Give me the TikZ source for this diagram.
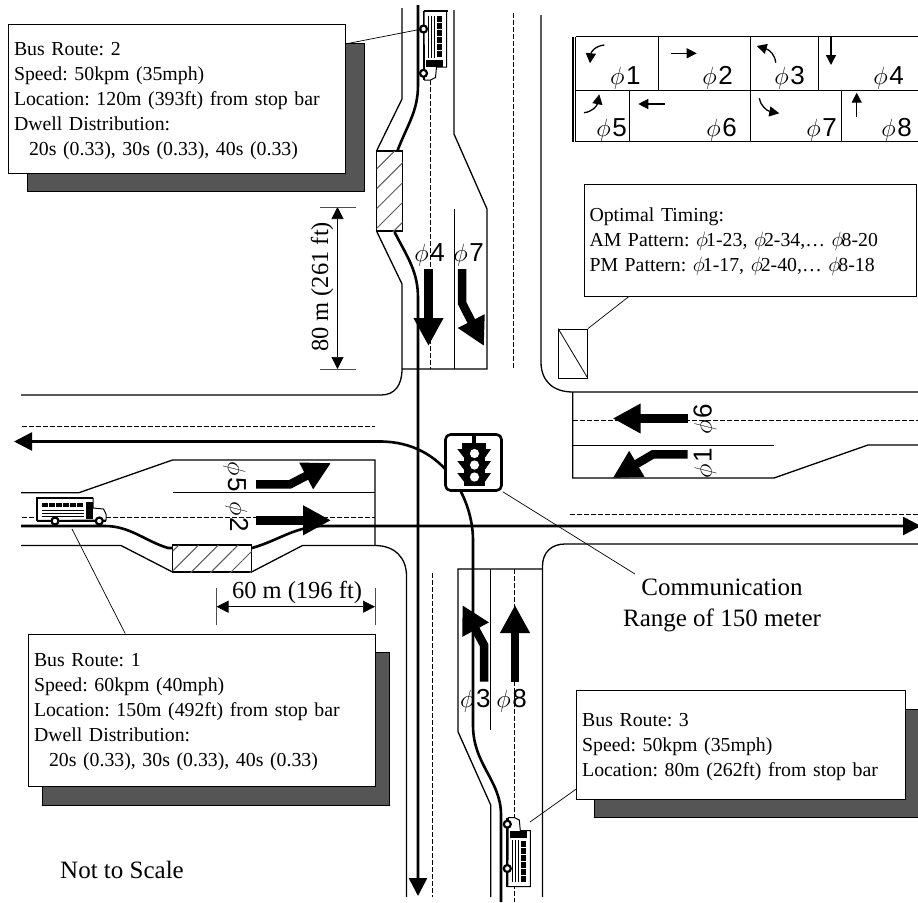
\documentclass[tikz,border=0pt]{standalone}
\usepackage{fontspec}
\setmainfont{Liberation Serif}
\newfontfamily\phasefont{Liberation Sans}
\usepackage{tikz}
\usetikzlibrary{arrows.meta,calc,shadows,patterns.meta}
\definecolor{shadowgray}{RGB}{85,85,85}
\definecolor{hatchgray}{RGB}{90,90,90}
\newcommand{\phs}[1]{$\phi$\kern1.5pt{\phasefont\fontsize{26}{26}\selectfont #1}}
\newcommand{\phz}{$\phi$\kern-2pt}
\tikzset{
  roadline/.style={line width=1.3pt},
  thinline/.style={line width=.8pt},
  cellline/.style={line width=1pt},
  laneline/.style={line width=.8pt, dash pattern=on 4.5pt off 2.5pt},
  routeline/.style={line width=2.6pt},
  routearrow/.style={routeline, -{Triangle[length=18pt,width=18pt]}},
  blockarrow/.style={line width=8.5pt, -{Triangle[length=28pt,width=28pt]}},
  smallarrow/.style={line width=1.3pt, -{Triangle[length=10pt,width=10pt]}},
  dimline/.style={line width=.7pt, {Triangle[length=12pt,width=12pt]}-{Triangle[length=12pt,width=12pt]}},
  dimtick/.style={line width=.7pt, draw=black!70},
  leader/.style={line width=.7pt},
  bay/.style={draw, line width=1.5pt, fill=white, inner sep=0pt, postaction={pattern={Lines[angle=45,distance=14pt,line width=1pt]}, pattern color=hatchgray}},
  infobox/.style={draw, thinline, fill=white, align=left, inner xsep=5.5pt, inner ysep=0pt, font=\fontsize{19.8}{25}\selectfont\frenchspacing, execute at begin node=\rule{0pt}{17.5pt}},
  shadowbox/.style={infobox, general shadow={shadow xshift=#1pt, shadow yshift=-18.5pt, fill=shadowgray, draw=black}},
  phaselabel/.style={inner sep=0pt, font=\fontsize{25}{25}\selectfont},
  bigtext/.style={inner sep=0pt, font=\fontsize{25}{31}\selectfont},
  bus/.pic={
    \draw[fill=white, line width=1pt] (-34.5,-13) -- (21.5,-13) -- (21.5,-3) -- (32,-2) -- (34.5,3) -- (34.5,9) -- (-34.5,9.5) -- cycle;
    \draw[line width=1.8pt] (-34.5,-14) -- (-34.5,10);
    \draw[line width=1.8pt] (-34.5,10) -- (34.5,10);
    \draw[line width=1.4pt] (-34.5,-13) -- (21.5,-13);
    \foreach \winx in {-30,-23,-16,-9,-2,5}
      \fill (\winx,-8.3) rectangle ++(6,4.6);
    \fill (14.5,-9.5) rectangle (21,7.5);
    \draw[line width=.5pt] (-30,-1) -- (12,-1) (-30,2) -- (12,2) (-30,5) -- (12,5);
    \foreach \wheelx in {-16.5,27.8}
      \draw[line width=2.2pt, fill=white] (\wheelx,10) circle (3.5);
  }
}
\begin{document}
\begin{tikzpicture}[x=1pt,y=-1pt]
  \useasboundingbox (0,0) rectangle (918,902);

  \draw[roadline] (402,8) -- (402,99) -- (376.5,151);
  \draw[roadline] (376.5,231) -- (402,284) -- (402,369) .. controls (402,385) and (395,395) .. (381,395) -- (21,395);
  \draw[roadline] (454,10) -- (454,134) -- (487,209) -- (487,369) -- (402,369);
  \draw[thinline] (454,209) -- (454,369);
  \draw[laneline] (430,80) -- (430,369);
  \draw[laneline] (513,13) -- (513,368);
  \draw[roadline] (541,15) -- (541,362) .. controls (541,381) and (553,392) .. (573,392) -- (918,392);

  \draw[laneline] (22,426.5) -- (375,426.5);
  \draw[roadline] (21,492.7) -- (79,492.7) -- (172.5,460) -- (375,460) -- (375,545.5);
  \draw[thinline] (172.5,492.7) -- (375,492.7);
  \draw[laneline] (22,517) -- (375,517);
  \draw[roadline] (21,545.5) -- (121,545.5) -- (172.5,572);
  \draw[roadline] (251.5,572) -- (302.5,545.5) -- (375,545.5) .. controls (395,545.5) and (406.5,558) .. (406.5,576) -- (406.5,897);

  \draw[laneline] (432.5,573) -- (432.5,897);
  \draw[roadline] (542.5,897) -- (542.5,566) .. controls (542.5,552) and (552,544) .. (565,544) -- (918,544);
  \draw[roadline] (542.5,569) -- (458,569) -- (458,731.7) -- (490.7,805) -- (490.7,897);
  \draw[thinline] (490.7,569) -- (490.7,730);
  \draw[laneline] (514.7,569) -- (514.7,902);

  \draw[laneline] (570,514.7) -- (918,514.7);
  \draw[roadline] (572.7,392) -- (572.7,478) -- (774,478) -- (868,445) -- (918,445);
  \draw[thinline] (572.7,445) -- (774,445);
  \draw[laneline] (573,420.5) -- (918,420.5);

  \draw[routearrow] (418,5) -- (418,85) .. controls (418,112) and (407,125) .. (397,152) -- (395,233) .. controls (408,258) and (418,272) .. (418,298) -- (418,896);
  \draw[routearrow] (501,902) -- (501,815) .. controls (501,780) and (473,765) .. (473,725) -- (473,540) .. controls (473,500) and (445,441.5) .. (380,441.5) -- (14,441.5);
  \draw[routearrow] (21,526) -- (105,526) .. controls (130,526) and (145,541) .. (168,548) -- (252,548) .. controls (280,540) and (295,526) .. (325,526) -- (921,526);

  \draw[blockarrow] (428.5,269) -- (428.5,346);
  \draw[blockarrow] (462,269) -- (462,303) -- (484,346);
  \draw[blockarrow] (256,484.3) -- (290,484.3) -- (331,463);
  \draw[blockarrow] (256,520.3) -- (331,520.3);
  \draw[blockarrow] (687.7,418.5) -- (612.7,418.5);
  \draw[blockarrow] (687.7,454.3) -- (653,454.3) -- (612.7,478);
  \draw[blockarrow] (484,681.7) -- (484,645) -- (462.3,605);
  \draw[blockarrow] (515,681.7) -- (515,605);

  \node[phaselabel, anchor=base east] (roadphfour) at (445,261) {\phs{4}};
  \node[phaselabel, anchor=base east] (roadphseven) at (484,261) {\phs{7}};
  \node[phaselabel, anchor=base east] (roadphthree) at (490.7,707) {\phs{3}};
  \node[phaselabel, anchor=base east] (roadpheight) at (527,707) {\phs{8}};
  \node[phaselabel, anchor=base east, rotate=-90] (roadphfive) at (228,491.7) {\phs{5}};
  \node[phaselabel, anchor=base east, rotate=-90] (roadphtwo) at (230,532) {\phs{2}};
  \node[phaselabel, anchor=base east, rotate=90] (roadphsix) at (711.7,404) {\phs{6}};
  \node[phaselabel, anchor=base east, rotate=90] (roadphone) at (711.7,448) {\phs{1}};

  \node[bay, minimum width=26pt, minimum height=80pt] (baynorth) at (389.5,191) {};
  \node[bay, minimum width=79pt, minimum height=27pt] (baywest) at (212,558.5) {};

  \pic[rotate=-90] at (433.5,45.5) {bus};
  \pic at (71.5,511) {bus};
  \pic[rotate=90,yscale=-1] at (517.3,852) {bus};

  \coordinate (busnorth) at (422,29);
  \coordinate (buswest) at (72,529);
  \coordinate (bussouth) at (530,822);
  \coordinate (commend) at (635,574);

  \node[draw, thinline, fill=white, minimum width=29pt, minimum height=49pt, inner sep=0pt] (cabinet) at (573,353.5) {};
  \draw[thinline] (cabinet.north west) -- (cabinet.south east);

  \node[draw, routeline, fill=white, rounded corners=5pt, minimum size=56pt, inner sep=0pt] (signal) at (473.5,462.5) {};
  \fill (472,434) rectangle (476,444);
  \fill (462.3,443.3) rectangle (485.5,449);
  \fill (464,449) rectangle (484.5,485.7);
  \foreach \visory in {449,461,473} {
    \fill (457.3,\visory) -- (465,\visory) -- (465,\visory+10) -- cycle;
    \fill (491,\visory) -- (484,\visory) -- (484,\visory+10) -- cycle;
  }
  \foreach \lampy in {453.5,465,477}
    \fill[white] (474.5,\lampy) circle (4.6);

  \node[shadowbox=18.5, text width=326pt, minimum height=148.5pt] (routetwo) at (177,98.75) {Bus Route: 2\\Speed: 50kpm (35mph)\\Location: 120m (393ft) from stop bar\\Dwell Distribution:\\\hspace*{15pt}20s (0.33), 30s (0.33), 40s (0.33)};
  \node[shadowbox=14, text width=336pt, minimum height=152.7pt] (routeone) at (202,710.3) {Bus Route: 1\\Speed: 60kpm (40mph)\\Location: 150m (492ft) from stop bar\\Dwell Distribution:\\\hspace*{15pt}20s (0.33), 30s (0.33), 40s (0.33)};
  \node[shadowbox=18, text width=317.3pt, minimum height=108.3pt] (routethree) at (740.8,744.9) {Bus Route: 3\\Speed: 50kpm (35mph)\\Location: 80m (262ft) from stop bar};
  \node[infobox, text width=321pt, minimum height=112pt] (timing) at (750,240) {Optimal Timing:\\AM Pattern: \phz1-23, \phz2-34,… \phz8-20\\PM Pattern: \phz1-17, \phz2-40,… \phz8-18};

  \draw[leader] (routetwo.18) -- (busnorth);
  \draw[leader] (routeone.135) -- (buswest);
  \draw[leader] (routethree.195.6) -- (bussouth);
  \draw[leader] (timing.205) -- (cabinet.north east);
  \draw[leader] (signal.south east) -- (commend);

  \node[bigtext, align=center] (commlabel) at (722,605) {Communication\\Range of 150 meter};
  \node[bigtext, anchor=base west] (scalelabel) at (60,878) {Not to Scale};

  \coordinate (dimnorth) at (337.5,207);
  \coordinate (dimsouth) at (337.5,369);
  \draw[dimline] (dimnorth) -- (dimsouth);
  \draw[dimtick] ([xshift=-18pt]dimnorth) -- ([xshift=18pt]dimnorth);
  \draw[dimtick] ([xshift=-18pt]dimsouth) -- ([xshift=18pt]dimsouth);
  \node[bigtext, rotate=90, font=\fontsize{24.5}{25}\selectfont] (dimnorthlabel) at (322,287) {80 m (261 ft)};

  \coordinate (dimwest) at (216.5,606.7);
  \coordinate (dimeast) at (375,606.7);
  \draw[dimline] (dimwest) -- (dimeast);
  \draw[dimtick] ([yshift=-18.5pt]dimwest) -- ([yshift=18.5pt]dimwest);
  \draw[dimtick] ([yshift=-18.5pt]dimeast) -- ([yshift=18.5pt]dimeast);
  \node[bigtext, font=\fontsize{24.5}{25}\selectfont] (dimwestlabel) at (297,592) {60 m (196 ft)};

  \draw[cellline] (575.7,36.7) -- (918,36.7) (575.7,90) -- (918,90) (575.7,141.7) -- (918,141.7);
  \draw[cellline] (575.7,36.7) -- (575.7,141.7);
  \draw[line width=1.6pt] (572.7,36.7) -- (572.7,141.7);
  \foreach \cellx in {658.3,750.7,818.3}
    \draw[cellline] (\cellx,36.7) -- (\cellx,90);
  \foreach \cellx in {629.3,750.7,841.7}
    \draw[cellline] (\cellx,90) -- (\cellx,141.7);
  \foreach \digit/\labx/\laby in {1/640.7/84,2/733/84,3/805/84,4/904/84,5/627/136.7,6/737/136.7,7/837/136.7,8/912/136.7}
    \node[phaselabel, anchor=base east] (cell\digit) at (\labx,\laby) {\phs{\digit}};

  \draw[smallarrow] (604.3,45) .. controls (595,46) and (591,52) .. (590,63.3);
  \draw[smallarrow] (670.7,53.3) -- (696.7,53.3);
  \draw[smallarrow] (775.7,62.7) .. controls (775,55) and (770,50) .. (756.7,46);
  \draw[smallarrow] (831,36) -- (831,65);
  \draw[smallarrow] (584,112.7) .. controls (592,112) and (597,106) .. (599.3,94.3);
  \draw[smallarrow] (665,104) -- (638.3,104);
  \draw[smallarrow] (759.3,98.3) .. controls (760,105) and (767,111) .. (779.3,113.3);
  \draw[smallarrow] (856.7,116.7) -- (856.7,92.7);
\end{tikzpicture}
\end{document}
